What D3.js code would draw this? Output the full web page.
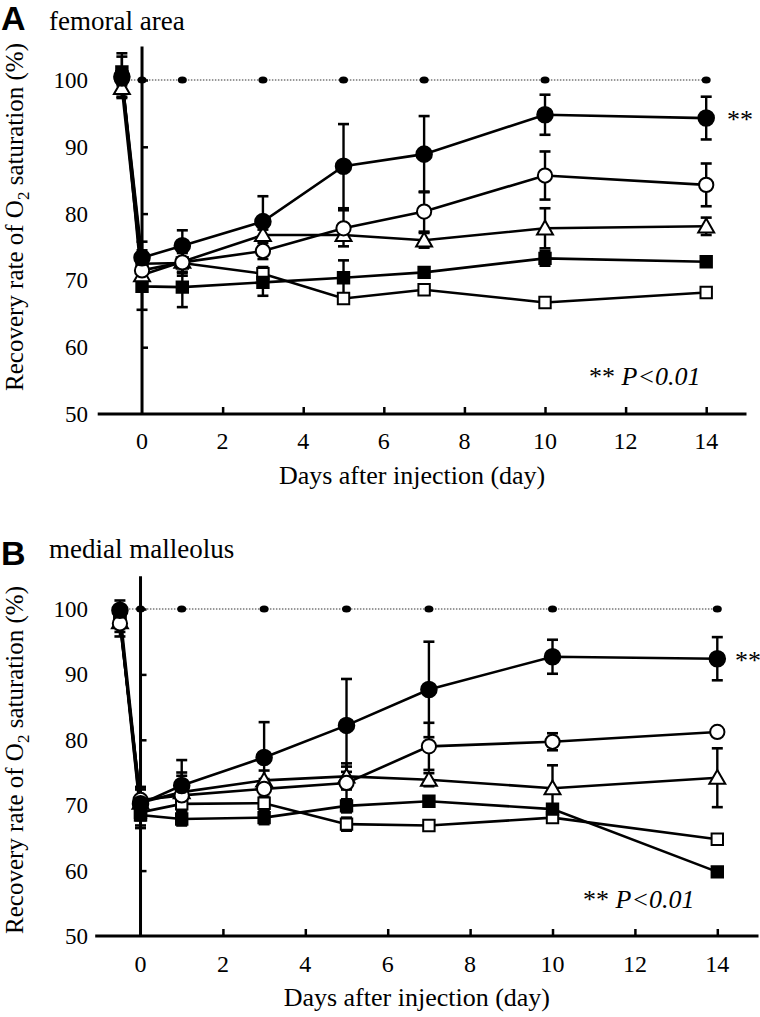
<!DOCTYPE html>
<html><head><meta charset="utf-8">
<script src="https://cdn.jsdelivr.net/npm/d3@7"></script>
<style>
html,body{margin:0;padding:0;background:#fff;}
svg{display:block;}
</style>
</head><body>
<svg id="chart" width="760" height="1017"></svg>
<script>
// ---- data ----
const days = [-0.5, 0, 1, 3, 5, 7, 10, 14];
const controlDays = [-0.5, 0, 1, 3, 5, 7, 10, 14];
const controlValue = 100;
const xTicks = [0, 2, 4, 6, 8, 10, 12, 14];
const yTicks = [50, 60, 70, 80, 90, 100];

// Panel A: femoral area
const A_filledCircle    = [100.5, 73.4, 75.2, 78.8, 87.1, 88.9, 94.8, 94.3];
const A_filledCircleErr = [3.0, 2.4, 2.3, 3.8, 6.3, 5.7, 3.0, 3.2];
const A_openCircle      = [100.2, 71.5, 72.7, 74.4, 77.8, 80.3, 85.7, 84.3];
const A_openCircleErr   = [1.0, 2.0, 2.0, 1.2, 2.7, 3.0, 3.6, 3.2];
const A_triangle        = [98.8, 70.8, 72.8, 76.8, 76.8, 76.0, 77.8, 78.1];
const A_triangleErr     = [1.5, 2.0, 1.5, 0.8, 0.8, 1.1, 3.0, 1.3];
const A_filledSquare    = [101.2, 69.1, 69.0, 69.7, 70.4, 71.2, 73.3, 72.8];
const A_filledSquareErr = [2.8, 3.5, 3.0, 2.0, 2.6, 0.5, 1.1, 0.5];
const A_openSquare      = [100.5, 72.5, 72.6, 71.0, 67.3, 68.6, 66.7, 68.2];
const A_openSquareErr   = [1.0, 2.0, 1.5, 1.0, 0.5, 0.5, 0.5, 0.5];

// Panel B: medial malleolus
const B_filledCircle    = [99.8, 70.2, 73.0, 77.3, 82.2, 87.7, 92.7, 92.4];
const B_filledCircleErr = [1.5, 2.5, 3.9, 5.4, 7.1, 7.3, 2.6, 3.3];
const B_openCircle      = [97.8, 70.8, 71.5, 72.5, 73.4, 79.0, 79.7, 81.2];
const B_openCircleErr   = [2.0, 2.0, 3.5, 1.5, 2.5, 3.6, 1.3, 0.5];
const B_triangle        = [98.0, 70.4, 72.0, 73.8, 74.4, 73.9, 72.6, 74.2];
const B_triangleErr     = [1.5, 2.0, 2.5, 1.5, 2.0, 1.0, 3.5, 4.5];
const B_filledSquare    = [98.6, 68.5, 67.9, 68.1, 69.9, 70.6, 69.4, 59.8];
const B_filledSquareErr = [1.0, 2.0, 1.0, 1.0, 1.0, 0.5, 0.5, 0.3];
const B_openSquare      = [99.0, 68.9, 70.2, 70.3, 67.1, 66.9, 68.1, 64.8];
const B_openSquareErr   = [1.0, 2.0, 1.0, 1.0, 1.0, 0.5, 0.5, 0.3];

const panelLetters = ["A", "B"];
const panelTitles = ["femoral area", "medial malleolus"];
const xTitle = "Days after injection (day)";
const sigMark = "**";

// ---- drawing ----
const svg = d3.select("#chart");
const SERIF = '"Liberation Serif"';
const SANS = '"Liberation Sans"';

function txt(sel, size) {
  return sel.style("font-family", SERIF).style("font-size", size + "px");
}

function drawPanel(cfg) {
  const x = d3.scaleLinear().domain([-1.1, 15]).range(cfg.xRange);
  const y = d3.scaleLinear().domain([50, 105]).range(cfg.yRange);
  const g = svg.append("g");
  const x0 = x(0), yBase = y(50);

  // letter and title
  g.append("text").attr("x", 1).attr("y", cfg.letterY).text(cfg.letter)
    .style("font-family", SANS).style("font-weight", "bold").style("font-size", "34px");
  txt(g.append("text").attr("x", 49).attr("y", cfg.titleY).text(cfg.title), 27);

  // y label
  const yl = txt(g.append("text")
    .attr("transform", `translate(23,${cfg.yLabelY}) rotate(-90)`)
    .attr("text-anchor", "middle"), 25);
  yl.append("tspan").text("Recovery rate of O");
  yl.append("tspan").text("2").style("font-size", "17px").attr("dy", 6);
  yl.append("tspan").text(" saturation (%)").attr("dy", -6);

  // x axis
  const xAxis = d3.axisBottom(x).tickValues(xTicks.filter(t => t !== 0)).tickSize(-7).tickFormat("");
  g.append("g").attr("transform", `translate(0,${yBase})`).call(xAxis)
    .call(s => s.select(".domain").attr("d", `M${cfg.xRange[0]},0H${cfg.xRange[1]}`).attr("stroke-width", 3))
    .call(s => s.selectAll(".tick line").attr("stroke-width", 2.5));
  txt(g.selectAll("text.xl").data(xTicks).join("text").attr("class", "xl")
    .attr("x", d => x(d)).attr("y", yBase + cfg.xLabelDy).attr("text-anchor", "middle")
    .text(d => d), 24);
  txt(g.append("text").attr("x", (x(-1.1) + x(15)) / 2 - 10).attr("y", yBase + cfg.xTitleDy)
    .attr("text-anchor", "middle").text(xTitle), 26);

  // y axis at day 0
  const yAxis = d3.axisRight(y).tickValues(yTicks.filter(t => t > 50)).tickSize(6).tickFormat("");
  g.append("g").attr("transform", `translate(${x0},0)`).call(yAxis)
    .call(s => s.select(".domain").attr("d", `M0,${y(105)}V${yBase}`).attr("stroke-width", 3))
    .call(s => s.selectAll(".tick line").attr("stroke-width", 2.5));
  txt(g.selectAll("text.yl").data(yTicks).join("text").attr("class", "yl")
    .attr("x", 88).attr("y", d => y(d) + 8).attr("text-anchor", "end")
    .text(d => d), 23);

  // control dotted line
  const ctrl = controlDays.map(d => ({d, v: controlValue}));
  g.append("path").datum(ctrl)
    .attr("d", d3.line().x(p => x(p.d)).y(p => y(p.v)))
    .attr("fill", "none").attr("stroke", "#333").attr("stroke-width", 1.2).attr("stroke-dasharray", "1.5,1.5");

  const series = cfg.series;
  const line = d3.line().x(p => x(p.d)).y(p => y(p.v));
  series.forEach(s => {
    const pts = days.map((d, i) => ({d, v: s.values[i], e: s.err[i]}));
    s.pts = pts;
    g.append("path").datum(pts).attr("d", line).attr("fill", "none")
      .attr("stroke", "#000").attr("stroke-width", 2.6);
  });
  // error bars
  series.forEach(s => {
    s.pts.forEach(p => {
      if (!p.e) return;
      const xx = x(p.d), y1 = y(p.v + p.e), y2 = y(p.v - p.e);
      g.append("line").attr("x1", xx).attr("x2", xx).attr("y1", y1).attr("y2", y2)
        .attr("stroke", "#000").attr("stroke-width", 2.4);
      [y1, y2].forEach(yy => g.append("line").attr("x1", xx - 5.5).attr("x2", xx + 5.5)
        .attr("y1", yy).attr("y2", yy).attr("stroke", "#000").attr("stroke-width", 2.6));
    });
  });
  // markers
  const sym = {
    circle: d3.symbol().type(d3.symbolCircle),
    square: d3.symbol().type(d3.symbolSquare),
    triangle: d3.symbol().type(d3.symbolTriangle)
  };
  series.forEach(s => {
    g.selectAll(null).data(s.pts).join("path")
      .attr("transform", p => `translate(${x(p.d)},${y(p.v) + (s.shape === "triangle" ? 1.5 : 0)})`)
      .attr("d", sym[s.shape].size(s.size)())
      .attr("fill", s.filled ? "#000" : "#fff").attr("stroke", "#000").attr("stroke-width", 2);
  });
  // control dots
  g.selectAll(null).data(ctrl.filter(p => p.d >= 0)).join("ellipse")
    .attr("cx", p => x(p.d)).attr("cy", p => y(p.v)).attr("rx", 4.5).attr("ry", 3.5).attr("fill", "#000");

  // significance
  txt(g.append("text").attr("x", cfg.sigX).attr("y", y(cfg.sigV) + 13).text(sigMark), 26);
  const pt = txt(g.append("text").attr("x", cfg.pX).attr("y", cfg.pY), 26);
  pt.append("tspan").text(sigMark + " ");
  pt.append("tspan").style("font-style", "italic").text("P<0.01");
}

const mk = (fc, fce, oc, oce, tr, tre, fs, fse, os, ose) => [
  {values: os, err: ose, shape: "square", filled: false, size: 130},
  {values: fs, err: fse, shape: "square", filled: true, size: 130},
  {values: tr, err: tre, shape: "triangle", filled: false, size: 110},
  {values: oc, err: oce, shape: "circle", filled: false, size: 160},
  {values: fc, err: fce, shape: "circle", filled: true, size: 190}
];

drawPanel({
  letter: panelLetters[0], title: panelTitles[0], letterY: 30, titleY: 30,
  xRange: [97.7, 746.5], yRange: [414, 46.6], yLabelY: 217,
  xLabelDy: 35, xTitleDy: 70, sigX: 727, sigV: A_filledCircle[7] + 0.4, pX: 589, pY: 385,
  series: mk(A_filledCircle, A_filledCircleErr, A_openCircle, A_openCircleErr, A_triangle, A_triangleErr,
             A_filledSquare, A_filledSquareErr, A_openSquare, A_openSquareErr)
});
drawPanel({
  letter: panelLetters[1], title: panelTitles[1], letterY: 565, titleY: 558,
  xRange: [95.2, 758.5], yRange: [936, 576.3], yLabelY: 760,
  xLabelDy: 36, xTitleDy: 70, sigX: 735, sigV: B_filledCircle[7] + 0.4, pX: 583, pY: 908,
  series: mk(B_filledCircle, B_filledCircleErr, B_openCircle, B_openCircleErr, B_triangle, B_triangleErr,
             B_filledSquare, B_filledSquareErr, B_openSquare, B_openSquareErr)
});
</script>
</body></html>
